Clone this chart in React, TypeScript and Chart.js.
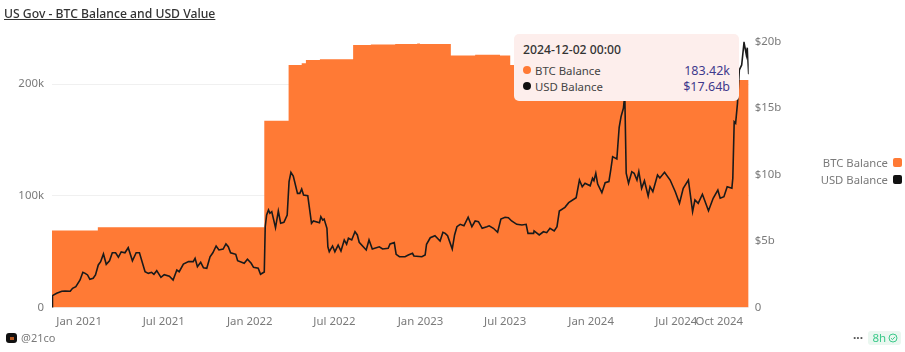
import React, { useEffect, useRef } from "react";
import { Chart, registerables } from "chart.js";

Chart.register(...registerables);

const FONT = '"Noto Sans", sans-serif';
const TITLE = "US Gov - BTC Balance and USD Value";

// Days since 2020-11-04
const tickDays = [58, 239, 423, 604, 788, 969, 1153, 1335, 1427];
const tickLabels = ["Jan 2021", "Jul 2021", "Jan 2022", "Jul 2022", "Jan 2023", "Jul 2023", "Jan 2024", "Jul 2024", "Oct 2024"];

const btcDays = [0, 98, 454, 506, 534, 543, 573, 644, 682, 734, 776, 781, 787, 853, 905, 958, 980, 1350, 1490];
const btcBalanceK = [68.9, 71.8, 167.2, 217.1, 218.6, 221.6, 222.2, 235, 235.4, 235.9, 235.9, 236.5, 235.9, 225.6, 226.3, 225.6, 217.1, 203.7, 203.7];

const usdDays = [
  0, 1, 10, 21, 28, 39, 44, 51, 60, 66, 71, 76, 81, 88, 93, 99, 104, 110, 116, 123, 129, 136, 142, 148, 156, 163, 172, 180, 187,
  199, 206, 213, 218, 224, 233, 240, 251, 259, 267, 272, 281, 292, 302, 306, 311, 318, 324, 331, 338, 344, 351, 357, 366, 372, 377,
  382, 393, 397, 411, 418, 426, 431, 441, 446, 454, 456, 459, 463, 466, 470, 478, 484, 489, 496, 503, 507, 511, 516, 525, 530, 534,
  538, 547, 555, 559, 572, 575, 579, 582, 588, 590, 593, 600, 605, 612, 618, 625, 630, 634, 641, 648, 653, 657, 672, 678, 685, 700,
  707, 719, 723, 732, 736, 743, 755, 762, 771, 774, 791, 798, 801, 809, 819, 830, 836, 841, 846, 856, 861, 866, 873, 881, 890, 898,
  905, 912, 920, 930, 935, 944, 953, 960, 969, 976, 983, 994, 1005, 1014, 1018, 1030, 1031, 1042, 1051, 1058, 1065, 1074, 1080, 1085,
  1097, 1105, 1121, 1128, 1134, 1140, 1151, 1156, 1159, 1163, 1167, 1176, 1183, 1191, 1195, 1199, 1208, 1213, 1217, 1222, 1225, 1228,
  1233, 1240, 1245, 1251, 1255, 1261, 1267, 1275, 1279, 1285, 1295, 1300, 1310, 1322, 1333, 1342, 1350, 1361, 1370, 1375, 1382, 1391,
  1404, 1414, 1424, 1429, 1437, 1444, 1454, 1456, 1459, 1462, 1466, 1470, 1475, 1480, 1485, 1487, 1490,
];
const usdBalanceB = [
  0, 0.89, 1.07, 1.22, 1.24, 1.22, 1.44, 1.57, 2.07, 2.65, 2.57, 2.45, 2.12, 2.2, 2.45, 3.2, 3.45, 4.03, 3.25, 3.52, 4.12, 4.12, 3.78, 4.18, 4.12, 4.5, 3.52, 4.12, 4.12,
  2.69, 2.57, 2.65, 2.5, 2.77, 2.27, 2.47, 2.35, 2.07, 2.82, 2.69, 3.27, 3.45, 3.45, 3.7, 3.07, 3.4, 2.99, 2.95, 3.82, 4.12, 4.63, 4.33, 4.4, 4.78, 4.57,
  4.12, 4.0, 3.52, 3.33, 3.63, 3.33, 3.02, 2.95, 2.5, 2.67, 6.08, 6.96, 7.34, 7.09, 7.21, 6.0, 7.26, 6.34, 6.41, 6.96, 9.47, 10.17, 9.89, 8.59, 8.59, 8.92,
  8.47, 8.41, 6.34, 6.51, 6.38, 6.83, 6.58, 6.66, 5.96, 4.57, 4.2, 4.63, 4.2, 4.7, 4.25, 5.08, 4.76, 5.21, 5.08, 5.7, 5.46, 4.91, 4.33, 5.08, 4.4, 4.57,
  4.4, 4.45, 4.78, 4.88, 4.0, 3.82, 3.82, 3.95, 4.08, 3.88, 3.82, 3.95, 4.76, 5.25, 5.4, 5.0, 5.66, 5.58, 5.4, 4.4, 5.46, 6.08, 6.26, 6.15, 6.79, 6.08,
  6.51, 6.46, 5.96, 6.08, 6.15, 5.96, 5.66, 6.66, 6.79, 6.76, 6.51, 6.26, 6.21, 6.26, 5.58, 5.58, 5.76, 5.46, 5.7, 5.63, 5.96, 5.76, 6.08, 7.26,
  7.54, 7.89, 8.26, 9.59, 9.09, 9.35, 9.16, 9.72, 9.54, 10.1, 9.29, 8.64, 9.39, 9.47, 10.35, 11.35, 11.17, 13.56, 14.36, 14.99, 16.0, 10.1,
  9.35, 10.22, 10.1, 9.59, 10.22, 8.97, 9.54, 8.39, 9.09, 8.71, 9.97, 9.74, 10.17, 9.59, 8.71, 7.84, 8.97, 9.59, 7.21, 8.09, 7.84, 8.52,
  7.28, 8.22, 8.84, 8.22, 8.34, 9.09, 8.97, 9.72, 13.98, 13.86, 15.36, 17.87, 18.25, 19.95, 19.0, 19.55, 17.55,
];

const seriesNames = ["BTC Balance", "USD Balance"];
const seriesColors = ["#FF7A35", "#111111"];
const tooltipDate = "2024-12-02 00:00";
const tooltipValues = ["183.42k", "$17.64b"];

const GREY = "#7a7a7a";

export default function App() {
  const ref = useRef<HTMLCanvasElement | null>(null);

  useEffect(() => {
    if (!ref.current) return;
    const chart = new Chart(ref.current, {
      type: "line",
      data: {
        datasets: [
          {
            label: seriesNames[0],
            data: btcDays.map((d, i) => ({ x: d, y: btcBalanceK[i] })),
            yAxisID: "yL",
            backgroundColor: seriesColors[0],
            borderColor: seriesColors[0],
            borderWidth: 0,
            pointRadius: 0,
            stepped: true,
            fill: "origin",
            order: 2,
          },
          {
            label: seriesNames[1],
            data: usdDays.map((d, i) => ({ x: d, y: usdBalanceB[i] })),
            yAxisID: "yR",
            borderColor: "#1a1a1a",
            borderWidth: 1.6,
            pointRadius: 0,
            tension: 0,
            fill: false,
            order: 1,
          },
        ],
      },
      options: {
        responsive: false,
        animation: false,
        events: [],
        layout: { padding: { top: 41.7, left: 0, right: 0, bottom: 0 } },
        plugins: { legend: { display: false }, tooltip: { enabled: false } },
        scales: {
          x: {
            type: "linear",
            min: 0,
            max: 1490,
            grid: { display: false, drawTicks: false },
            border: { display: false },
            afterBuildTicks: (axis: any) => {
              axis.ticks = tickDays.map((v) => ({ value: v }));
            },
            afterFit: (axis: any) => {
              axis.height = 44.5;
            },
            ticks: {
              autoSkip: false,
              maxRotation: 0,
              padding: 7,
              color: GREY,
              font: { family: FONT, size: 11.4 },
              callback: (v: any) => tickLabels[tickDays.indexOf(Number(v))] ?? "",
            },
          },
          yL: {
            position: "left",
            min: 0,
            max: 238,
            afterBuildTicks: (axis: any) => {
              axis.ticks = [0, 100, 200].map((v) => ({ value: v }));
            },
            afterFit: (axis: any) => {
              axis.width = 52;
            },
            grid: { color: "#f0f0f0", drawTicks: false, lineWidth: 1 },
            border: { display: false },
            ticks: {
              padding: 8,
              color: GREY,
              font: { family: FONT, size: 11.4 },
              callback: (v: any) => (Number(v) === 0 ? "0" : `${v}k`),
            },
          },
          yR: {
            position: "right",
            min: 0,
            max: 20,
            afterBuildTicks: (axis: any) => {
              axis.ticks = [0, 5, 10, 15, 20].map((v) => ({ value: v }));
            },
            afterFit: (axis: any) => {
              axis.width = 156.3;
            },
            grid: { display: false, drawTicks: false },
            border: { display: false },
            ticks: {
              padding: 6,
              color: GREY,
              font: { family: FONT, size: 11.4 },
              callback: (v: any) => (Number(v) === 0 ? "0" : `$${v}b`),
            },
          },
        },
      },
    });
    return () => chart.destroy();
  }, []);

  const abs = (s: React.CSSProperties): React.CSSProperties => ({ position: "absolute", whiteSpace: "nowrap", fontFamily: FONT, ...s });

  return (
    <div style={{ position: "fixed", left: 0, top: 0, width: 905, height: 352, background: "#fff", overflow: "hidden" }}>
      <canvas ref={ref} width={905} height={352} style={{ display: "block", width: 905, height: 352 }} />

      <div style={abs({ left: 4, top: 5, fontSize: 12.2, lineHeight: "18px", fontWeight: 500, color: "#333", textDecoration: "underline" })}>{TITLE}</div>

      {seriesNames.map((n, i) => (
        <React.Fragment key={n}>
          <div style={abs({ right: 17, top: 154 + i * 17, fontSize: 11.3, lineHeight: "17px", color: GREY })}>{n}</div>
          <div style={abs({ left: 893, top: 158 + i * 17, width: 9, height: 9, borderRadius: 2, background: seriesColors[i] })} />
        </React.Fragment>
      ))}

      <div style={abs({ left: 514, top: 34, width: 224.5, height: 66.7, borderRadius: 5, background: "#FDEEEC" })}>
        <div style={abs({ left: 9, top: 6.5, fontSize: 12.2, lineHeight: "18px", fontWeight: 500, color: "#333" })}>{tooltipDate}</div>
        {seriesNames.map((n, i) => (
          <React.Fragment key={n}>
            <div style={abs({ left: 9, top: 32 + i * 16, width: 8, height: 8, borderRadius: 4, background: seriesColors[i] })} />
            <div style={abs({ left: 21, top: 27.5 + i * 16, fontSize: 11.4, lineHeight: "17px", color: "#444" })}>{n}</div>
            <div style={abs({ right: 8.5, top: 27.5 + i * 16, fontSize: 12.5, lineHeight: "17px", color: "#3F3A8C" })}>{tooltipValues[i]}</div>
          </React.Fragment>
        ))}
      </div>

      <div style={abs({ left: 6, top: 333, width: 11, height: 10, borderRadius: 3, background: "#111" })}>
        <div style={abs({ left: 3.5, top: 3.5, width: 4, height: 3, background: "#B4561F" })} />
      </div>
      <div style={abs({ left: 21, top: 330, fontSize: 11, lineHeight: "16px", color: GREY })}>@21co</div>

      <div style={abs({ left: 853, top: 330, fontSize: 12, lineHeight: "16px", color: "#555", fontWeight: 700 })}>···</div>
      <div style={abs({ left: 868, top: 331, width: 33, height: 14, borderRadius: 3, background: "#EAF7F0" })}>
        <div style={abs({ left: 4.5, top: -1, fontSize: 11.5, lineHeight: "16px", color: "#3CC98A" })}>8h</div>
        <svg width="10" height="10" viewBox="0 0 10 10" style={{ position: "absolute", left: 20, top: 2 }}>
          <circle cx="5" cy="5" r="4" fill="none" stroke="#3CC98A" strokeWidth="1" />
          <path d="M3 5.2 L4.5 6.6 L7 3.8" fill="none" stroke="#3CC98A" strokeWidth="1" />
        </svg>
      </div>
    </div>
  );
}
